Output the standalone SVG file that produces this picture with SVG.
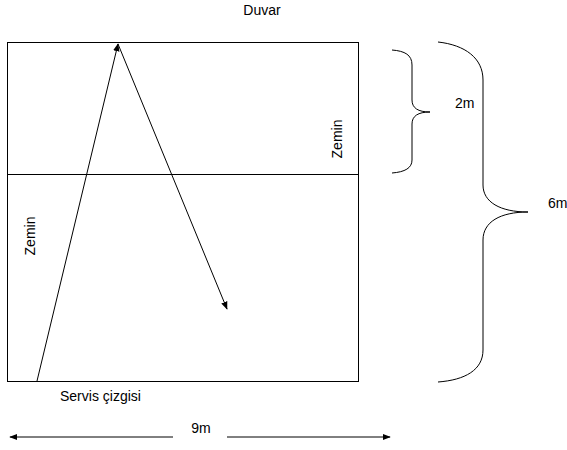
<svg xmlns="http://www.w3.org/2000/svg" width="567" height="450" viewBox="0 0 567 450">
<style>
text{font-family:"Liberation Sans",Arial,sans-serif;font-size:14px;fill:#000}
.ln{fill:none;stroke:#000;stroke-width:1}
</style>
<defs>
<marker id="ah" viewBox="0 0 10 10" refX="9" refY="5" markerWidth="8" markerHeight="8" markerUnits="userSpaceOnUse" orient="auto">
<path d="M0,1 L10,5 L0,9 Z" fill="#000"/>
</marker>
</defs>
<rect width="567" height="450" fill="#fff"/>
<g id="court">
<rect class="ln" x="7.5" y="42.5" width="351" height="339"/>
<line class="ln" x1="7.5" y1="174.5" x2="358.5" y2="174.5"/>
</g>
<g id="labels">
<text x="262" y="15" text-anchor="middle">Duvar</text>
<text x="455" y="108">2m</text>
<text x="548" y="208">6m</text>
<text x="60" y="401">Servis çizgisi</text>
<text x="201" y="433" text-anchor="middle">9m</text>
<text transform="translate(35,236) rotate(-90)" text-anchor="middle">Zemin</text>
<text transform="translate(342,139) rotate(-90)" text-anchor="middle">Zemin</text>
</g>
<g id="braces">
<path class="ln" d="M392,50 C405,51 412,55 412,65 L412,100 C412,108 418,112 430,112 C418,112 412,116 412,124 L412,160 C412,168 405,172 392,173"/>
<path class="ln" d="M438,42 C465,45 483,58 483,80 L483,185 C483,202 500,212 528,212 C500,212 483,222 483,240 L483,350 C483,370 465,380 438,382"/>
</g>
<g id="connectors">
<line class="ln" x1="37" y1="381" x2="118" y2="44" marker-end="url(#ah)"/>
<line class="ln" x1="118" y1="44" x2="227" y2="309" marker-end="url(#ah)"/>
<line class="ln" x1="173" y1="437" x2="10" y2="437" marker-end="url(#ah)"/>
<line class="ln" x1="227" y1="437" x2="390" y2="437" marker-end="url(#ah)"/>
</g>
</svg>
